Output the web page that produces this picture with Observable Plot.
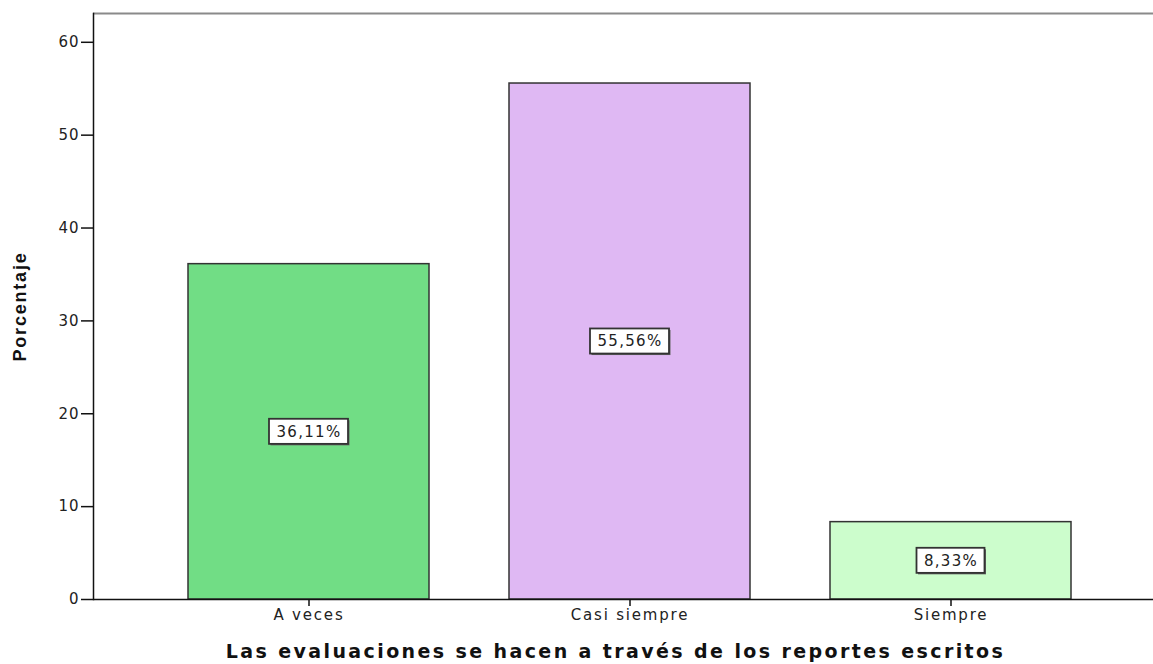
<!DOCTYPE html>
<html><head><meta charset="utf-8">
<script src="https://cdn.jsdelivr.net/npm/d3@7"></script>
<script src="https://cdn.jsdelivr.net/npm/@observablehq/plot@0.6"></script>
<style>
body{margin:0;background:#fff}
g[aria-label="x-axis tick label"] text{letter-spacing:1.8px}
g[aria-label="y-axis tick label"] text{letter-spacing:1px}
</style>
</head><body><div id="chart"></div>
<script>
const categories = ["A veces", "Casi siempre", "Siempre"];
const values = [36.11, 55.56, 8.33];
const labels = ["36,11%", "55,56%", "8,33%"];
const colors = ["#71dd85", "#dfb8f3", "#ccfdcc"];
const yTicks = [0, 10, 20, 30, 40, 50, 60];
const yMax = 63.1;
const xTitle = "Las evaluaciones se hacen a través de los reportes escritos";
const yTitle = "Porcentaje";

const data = categories.map((c, i) => ({cat: c, value: values[i], label: labels[i]}));
const boxHalf = 1.35; // half height of label box, in y units

function labelBox(d) {
  const inset = d.label.length > 5 ? 81 : 86.5;
  return [
    Plot.barY([d], {x: "cat", y1: v => v.value / 2 - boxHalf, y2: v => v.value / 2 + boxHalf,
      insetLeft: inset, insetRight: inset, fill: "#666", dx: 1.5, dy: 1.5}),
    Plot.barY([d], {x: "cat", y1: v => v.value / 2 - boxHalf, y2: v => v.value / 2 + boxHalf,
      insetLeft: inset, insetRight: inset, fill: "#fff", stroke: "#333", strokeWidth: 1.8})
  ];
}

const chart = Plot.plot({
  width: 1153, height: 664,
  marginLeft: 93, marginRight: 0, marginTop: 13, marginBottom: 65,
  style: {fontFamily: "DejaVu Sans, sans-serif", fontSize: "15px", background: "#fff", color: "#222", overflow: "visible"},
  x: {domain: categories, range: [93, 1165], paddingInner: 0.25, paddingOuter: 0.2924, align: 0.5},
  y: {domain: [0, yMax]},
  color: {domain: categories, range: colors},
  marks: [
    Plot.barY(data, {x: "cat", y: "value", fill: "cat", stroke: "#333", strokeWidth: 1.5}),
    ...data.flatMap(labelBox),
    Plot.ruleY([yMax], {stroke: "#8a8a8a", strokeWidth: 2}),
    Plot.ruleY([0], {stroke: "#111", strokeWidth: 1.5}),
    Plot.frame({anchor: "left", stroke: "#111", strokeWidth: 1.5}),
    Plot.axisY({ticks: yTicks, tickSize: 12, tickPadding: 2, label: null, fontSize: 15, stroke: "#111", strokeWidth: 1.5}),
    Plot.axisX({tickSize: 7, tickPadding: 3, label: null, fontSize: 15, stroke: "#111", strokeWidth: 1.5}),
    Plot.text(data, {x: "cat", y: d => d.value / 2, text: "label", fontSize: 15, fill: "#222"}),
    Plot.text([yTitle], {frameAnchor: "left", textAnchor: "middle", rotate: -90, dx: -73, fontWeight: "bold", fontFamily: "Liberation Sans, sans-serif", fontSize: 18, fill: "#111"}),
    Plot.text([xTitle], {frameAnchor: "bottom", textAnchor: "middle", dy: 58, dx: -8, fontWeight: "bold", fontSize: 19, fill: "#111"})
  ]
});
document.getElementById("chart").appendChild(chart);

// letter spacing by content
d3.select(chart).selectAll("text").each(function() {
  const s = this.textContent;
  if (s === xTitle) this.style.letterSpacing = "2.4px";
  else if (s === yTitle) this.style.letterSpacing = "1.8px";
  else if (labels.includes(s)) this.style.letterSpacing = "1.3px";
});
</script>
</body></html>
